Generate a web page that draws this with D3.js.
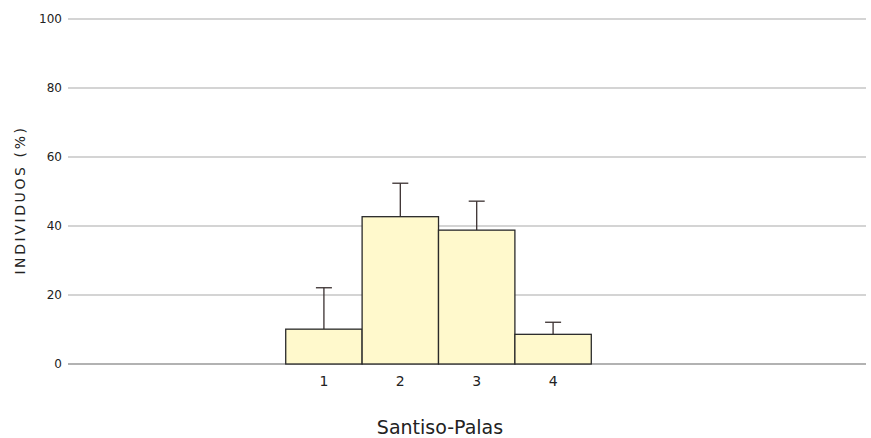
<!DOCTYPE html>
<html><head><meta charset="utf-8">
<script src="https://cdn.jsdelivr.net/npm/d3@7"></script>
<style>body{margin:0;background:#fff}svg{display:block}</style>
</head><body>
<svg id="c" width="871" height="438"></svg>
<script>
const categories = [1, 2, 3, 4];
const values = [10.1, 42.7, 38.8, 8.6];
const errorTops = [22.1, 52.4, 47.2, 12.1];
const yTicks = [0, 20, 40, 60, 80, 100];
const xTitle = "Santiso-Palas";
const yTitle = "INDIVIDUOS (%)";

(function () {
const svg = d3.select("#c");
const mLeft = 68, mRight = 866, mTop = 19, mBottom = 364;
const y = d3.scaleLinear().domain([0, 100]).range([mBottom, mTop]);
const x = d3.scaleLinear().domain([-2.35, 8.096]).range([mLeft, mRight]);
const bw = x(2) - x(1);
const font = "'DejaVu Sans', Verdana, sans-serif";

svg.append("g").selectAll("line").data(yTicks).join("line")
  .attr("x1", mLeft).attr("x2", mRight)
  .attr("y1", d => y(d)).attr("y2", d => y(d))
  .attr("stroke", d => d === 0 ? "#666" : "#aaa").attr("stroke-width", 1.2);

svg.append("g").selectAll("text").data(yTicks).join("text")
  .attr("x", mLeft - 6).attr("y", d => y(d)).attr("dy", "0.35em")
  .attr("text-anchor", "end").attr("font-family", font).attr("font-size", 12)
  .attr("fill", "#222").text(d => d);

const eb = svg.append("g").attr("stroke", "#3a3030").attr("stroke-width", 1.3);
categories.forEach((c, i) => {
  eb.append("line").attr("x1", x(c)).attr("x2", x(c)).attr("y1", y(values[i])).attr("y2", y(errorTops[i]));
  eb.append("line").attr("x1", x(c) - 8).attr("x2", x(c) + 8).attr("y1", y(errorTops[i])).attr("y2", y(errorTops[i]));
});

svg.append("g").selectAll("rect").data(categories).join("rect")
  .attr("x", d => x(d) - bw / 2).attr("width", bw)
  .attr("y", (d, i) => y(values[i])).attr("height", (d, i) => y(0) - y(values[i]))
  .attr("fill", "#fff9cc").attr("stroke", "#2a2a2a").attr("stroke-width", 1.3);

svg.append("g").selectAll("text").data(categories).join("text")
  .attr("x", d => x(d)).attr("y", 386)
  .attr("text-anchor", "middle").attr("font-family", font).attr("font-size", 14)
  .attr("fill", "#222").text(d => d);

svg.append("text").attr("x", 440).attr("y", 434).attr("text-anchor", "middle")
  .attr("font-family", font).attr("font-size", 19).attr("fill", "#222").text(xTitle);

svg.append("text").attr("transform", "translate(25,200) rotate(-90)")
  .attr("text-anchor", "middle").attr("font-family", font).attr("font-size", 14)
  .attr("letter-spacing", "2.6px").attr("fill", "#222").text(yTitle);
})();
</script>
</body></html>
